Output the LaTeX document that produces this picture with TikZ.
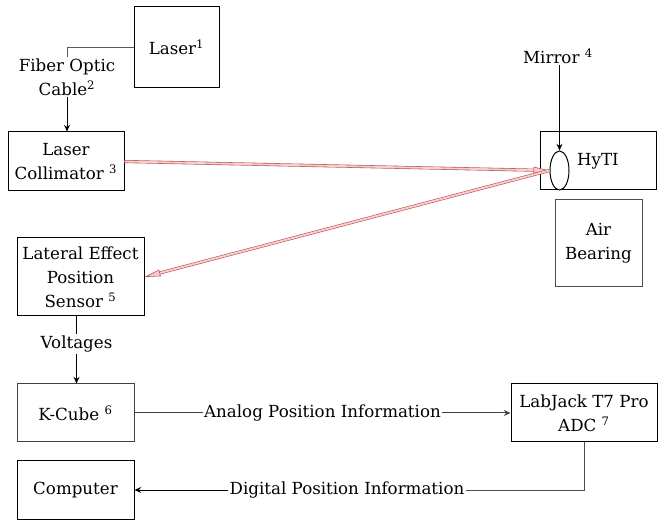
\documentclass[tikz,border=0pt]{standalone}
\usepackage{fontspec}
\setmainfont{DejaVu Serif}
\usetikzlibrary{positioning,arrows.meta,shapes.geometric}
\definecolor{beamline}{HTML}{B85450}
\definecolor{beamfill}{HTML}{F8CECC}

\tikzset{
  box/.style={draw, line width=0.75pt, align=center, inner sep=1pt, font=\fontsize{12.5}{18}\selectfont},
  lbl/.style={align=center, inner sep=1pt, font=\fontsize{12.5}{18}\selectfont},
  conn/.style={line width=0.75pt, -{Stealth[length=5pt,width=4.5pt]}},
  plain/.style={line width=0.75pt},
  beam/.style={draw=beamline, line width=0.45pt, double=beamfill, double distance=1.4pt,
    -{Triangle[open, length=12pt, width=5pt, fill=beamfill]}}
}

\begin{document}
\begin{tikzpicture}[x=0.75pt, y=-0.75pt]
        % page frame
        \useasboundingbox (0,0) rectangle (661,520);

        % Boxes
        \node[box, minimum width=63.75pt, minimum height=60.75pt] (laser) at (176.5,47.5) {Laser\textsuperscript{1}};
        \node[box, minimum width=87pt, minimum height=44.25pt] (coll) at (66,161.5) {Laser\\Collimator \textsuperscript{3}};
        \node[box, minimum width=87pt, minimum height=43.5pt] (hyti) at (598,161) {HyTI};
        \node[box, draw=black!70, minimum width=65.25pt, minimum height=65.25pt] (air) at (598.5,243.5) {Air\\Bearing};
        \node[box, minimum width=95.25pt, minimum height=58.5pt] (lep) at (80.5,277) {Lateral Effect\\Position\\Sensor \textsuperscript{5}};
        \node[box, draw=black!75, minimum width=87.75pt, minimum height=43.5pt] (kcube) at (75.5,413) {K-Cube \textsuperscript{6}};
        \node[box, minimum width=109.5pt, minimum height=43.5pt] (labjack) at (584,413) {LabJack T7 Pro\\ADC \textsuperscript{7}};
        \node[box, minimum width=87.75pt, minimum height=43.5pt] (comp) at (75.5,490) {Computer};

        % Mirror on the HyTI
        \node[draw, ellipse, line width=0.75pt, fill=white, inner sep=0pt,
              minimum width=14.25pt, minimum height=29.25pt] (mirror) at (559.5,170.5) {};

        % Free labels
        \node[lbl] (fiber) at (67,77) {Fiber Optic\\Cable\textsuperscript{2}};
        \node[lbl] (mirrorlbl) at (558,56) {Mirror \textsuperscript{4}};
        \node[lbl] (volt) at (76.5,344) {Voltages};

        % Connectors
        \draw[plain, black!65] (laser.west) -| (fiber.north);
        \draw[conn] (fiber.south) -- (fiber.south |- coll.north);
        \draw[conn] (mirror.north |- mirrorlbl.south) -- (mirror.north);
        \draw[plain] (volt.north |- lep.south) -- (volt.north);
        \draw[conn] (volt.south) -- (volt.south |- kcube.north);
        \draw[conn, black!75] (kcube.east) -- node[lbl, fill=white, text=black] (analog) {Analog Position Information} (labjack.west);
        \node[lbl, fill=white] (digital) at (347,490) {Digital Position Information};
        \draw[plain, black!70] (labjack.south) |- (digital.east);
        \draw[conn] (digital.west) -- (comp.east);

        % Laser beams
        \draw[beam] (coll.east) -- (mirror.west);
        \draw[beam] (mirror.west) -- (lep.east);
    \end{tikzpicture}
\end{document}
